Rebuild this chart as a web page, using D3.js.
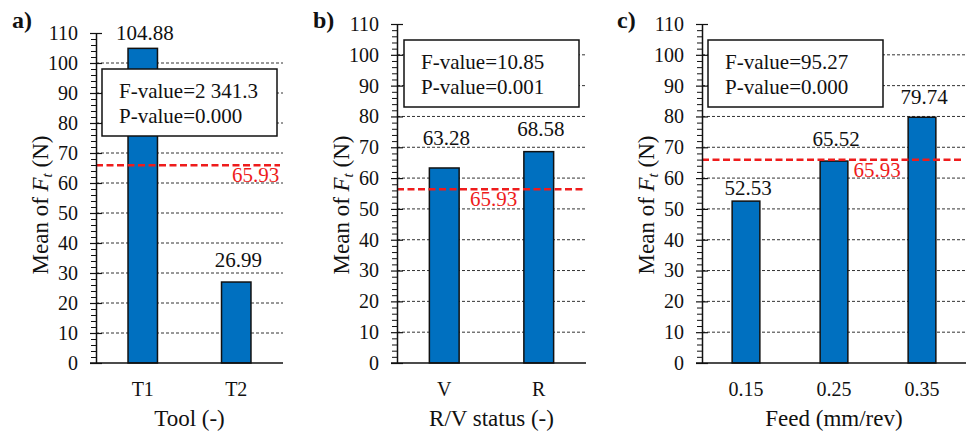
<!DOCTYPE html>
<html lang="en">
<head>
  <meta charset="UTF-8">
  <title>Mean of Ft by factor</title>
  <style>
    body { margin: 0; background: #fff; }
    svg { display: block; }
  </style>
</head>
<body>
  <svg width="968" height="434"></svg>
  <script src="https://d3js.org/d3.v7.min.js"></script>
  <script>
    // data
    const tools = ["T1", "T2"];
    const toolMeans = [104.88, 26.99];
    const rvStatus = ["V", "R"];
    const rvMeans = [63.28, 68.58];
    const feeds = ["0.15", "0.25", "0.35"];
    const feedMeans = [52.53, 65.52, 79.74];

    const grandMean = 65.93;
    // where the red dashed line actually sits in each panel (panel b is drawn lower than its label)
    const meanLineAt = [65.93, 56.4, 65.93];
    const fValues = ["2 341.3", "10.85", "95.27"];
    const pValues = ["0.000", "0.001", "0.000"];
    const yTicks = [0, 10, 20, 30, 40, 50, 60, 70, 80, 90, 100, 110];
    const gridTicks = [10, 20, 30, 40, 50, 60, 70, 80, 90, 100];
    const minorTicks = d3.range(0, 110, 2).filter(v => v % 10 !== 0);

    const SERIF = "'Liberation Serif', 'Times New Roman', 'DejaVu Serif', serif";

    // layout of each panel (pixels)
    const panels = [
      { tag: "a)", tagX: 12, cats: tools, vals: toolMeans, xTitle: "Tool (-)",
        left: 96, right: 283, top: 33, bottom: 363,
        box: [102, 69], meanLabel: 0.727, labelGap: [8, 15] },
      { tag: "b)", tagX: 313, cats: rvStatus, vals: rvMeans, xTitle: "R/V status (-)",
        left: 397, right: 586, top: 24, bottom: 363,
        box: [404, 40], meanLabel: 0.386, labelGap: [23, 16] },
      { tag: "c)", tagX: 617, cats: feeds, vals: feedMeans, xTitle: "Feed (mm/rev)",
        left: 702, right: 966, top: 24, bottom: 363,
        box: [708, 40], meanLabel: 0.574, labelGap: [6, 15, 13] }
    ];

    const svg = d3.select("svg");

    function serif(sel, size) {
      return sel.style("font-family", SERIF).style("font-size", size + "px").style("fill", "#111");
    }

    panels.forEach((p, i) => {
      const g = svg.append("g");
      const y = d3.scaleLinear().domain([0, 110]).range([p.bottom, p.top]);
      const x = d3.scaleBand().domain(p.cats).range([p.left, p.right])
        .paddingInner(0.685).paddingOuter(0.685 / 2);

      // dashed gridlines
      g.append("g").selectAll("line").data(gridTicks).enter().append("line")
        .attr("x1", p.left).attr("x2", p.right)
        .attr("y1", d => y(d)).attr("y2", d => y(d))
        .attr("stroke", "#333").attr("stroke-width", 1)
        .attr("stroke-dasharray", "3,2");

      // bars
      g.append("g").selectAll("rect").data(p.vals).enter().append("rect")
        .attr("x", (d, j) => x(p.cats[j]))
        .attr("width", x.bandwidth())
        .attr("y", d => y(d))
        .attr("height", d => y(0) - y(d))
        .attr("fill", "#0070C0")
        .attr("stroke", "#111").attr("stroke-width", 1.5);

      // value labels
      g.append("g").selectAll("text").data(p.vals).enter().append("text")
        .attr("x", (d, j) => x(p.cats[j]) + x.bandwidth() / 2 + 2)
        .attr("y", (d, j) => y(d) - p.labelGap[j])
        .attr("text-anchor", "middle")
        .call(serif, 21)
        .text(d => d.toFixed(2));

      // red dashed mean line
      g.append("line")
        .attr("x1", p.left).attr("x2", p.right - 3)
        .attr("y1", y(meanLineAt[i])).attr("y2", y(meanLineAt[i]))
        .attr("stroke", "#ee1c1c").attr("stroke-width", 2.5)
        .attr("stroke-dasharray", "7,3.5");
      g.append("text")
        .attr("x", p.left + p.meanLabel * (p.right - p.left))
        .attr("y", y(meanLineAt[i]) + 17)
        .call(serif, 21)
        .style("fill", "#ee1c1c")
        .text(grandMean.toFixed(2));

      // y axis: major ticks crossing the line, minor ticks outside
      const yAxis = g.append("g").attr("transform", `translate(${p.left},0)`)
        .call(d3.axisLeft(y).tickValues(yTicks).tickSizeInner(6).tickSizeOuter(0).tickPadding(12));
      yAxis.select(".domain").attr("stroke", "#111").attr("stroke-width", 1.5);
      yAxis.selectAll(".tick line").attr("x1", 6).attr("stroke", "#111").attr("stroke-width", 1.2);
      yAxis.selectAll(".tick text").call(serif, 20);
      g.append("g").attr("transform", `translate(${p.left},0)`)
        .call(d3.axisLeft(y).tickValues(minorTicks).tickSize(5).tickFormat(""))
        .call(s => s.select(".domain").remove())
        .selectAll(".tick line").attr("stroke", "#111").attr("stroke-width", 1);

      // x axis
      g.append("line")
        .attr("x1", p.left - 6).attr("x2", p.right)
        .attr("y1", y(0)).attr("y2", y(0))
        .attr("stroke", "#111").attr("stroke-width", 1.5);
      const xAxis = g.append("g").attr("transform", `translate(0,${y(0)})`)
        .call(d3.axisBottom(x).tickSize(0).tickPadding(19));
      xAxis.select(".domain").remove();
      xAxis.selectAll(".tick text").call(serif, 20);

      // axis titles
      g.append("text")
        .attr("x", (p.left + p.right) / 2)
        .attr("y", 426)
        .attr("text-anchor", "middle")
        .call(serif, 23)
        .text(p.xTitle);

      const yt = g.append("text")
        .attr("transform", `translate(${p.left - 48},205) rotate(-90)`)
        .attr("text-anchor", "middle")
        .call(serif, 23);
      yt.append("tspan").text("Mean of ");
      yt.append("tspan").style("font-style", "italic").text("F");
      yt.append("tspan").style("font-style", "italic").style("font-size", "15px")
        .attr("dy", 4).text("t");
      yt.append("tspan").attr("dy", -4).text(" (N)");

      // statistics box
      const bx = g.append("g").attr("transform", `translate(${p.box[0]},${p.box[1]})`);
      bx.append("rect")
        .attr("width", 175).attr("height", 67)
        .attr("fill", "#fff").attr("stroke", "#111").attr("stroke-width", 1.5);
      bx.append("text").attr("x", 17).attr("y", 29)
        .call(serif, 21).text("F-value=" + fValues[i]);
      bx.append("text").attr("x", 17).attr("y", 54)
        .call(serif, 21).text("P-value=" + pValues[i]);

      // panel tag
      g.append("text")
        .attr("x", p.tagX).attr("y", 28)
        .call(serif, 24).style("font-weight", "bold")
        .text(p.tag);
    });
  </script>
</body>
</html>
